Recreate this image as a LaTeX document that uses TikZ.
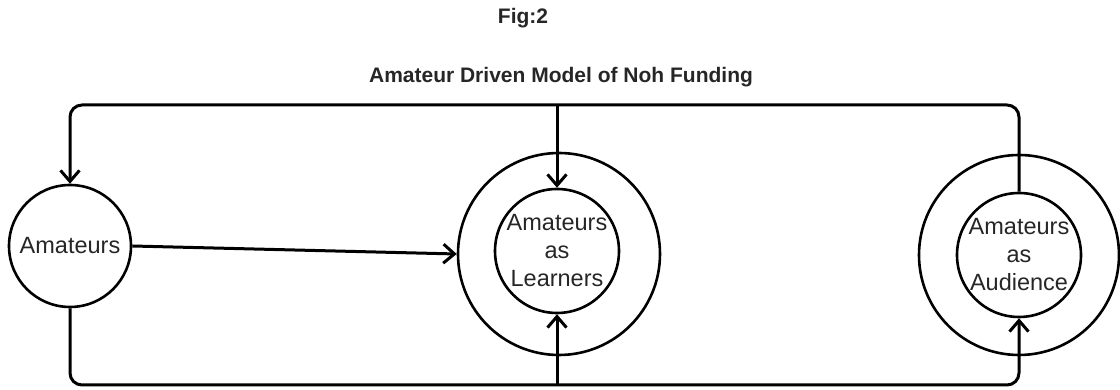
\documentclass[tikz,border=0pt]{standalone}
\usepackage{fontspec}
\setmainfont{Liberation Sans}
\usetikzlibrary{arrows.meta}
\begin{document}
\begin{tikzpicture}[x=1pt,y=1pt,
  circ/.style={draw, circle, inner sep=0pt, line width=2.6pt, text=black!85,
    font=\fontsize{23.5}{28}\selectfont, align=center},
  conn/.style={line width=3pt, -{Straight Barb[length=11pt,width=19pt,line width=3pt]}},
  title/.style={font=\fontsize{21}{24}\selectfont\bfseries, text=black!85}]
\useasboundingbox (0,0) rectangle (1120,390);
\node[title] (fig) at (523,372) {Fig:2};
\node[title] (ttl) at (561,313) {Amateur Driven Model of Noh Funding};
\node[circ, minimum size=122pt] (am) at (70,144) {Amateurs};
\node[circ, minimum size=202pt] (lo) at (559,136) {};
\node[circ, minimum size=124pt] (li) at (557,139) {Amateurs\\as\\Learners};
\node[circ, minimum size=200pt] (ao) at (1019,135) {};
\node[circ, minimum size=124pt] (ai) at (1019,135) {Amateurs\\as\\Audience};
\coordinate (tl) at (70,285);
\coordinate (tr) at (1019,285);
\coordinate (bl) at (70,5);
\coordinate (br) at (1019,5);
\draw[conn, rounded corners=12pt] (ai.north) -- (tr) -- (tl) -- (am.north);
\draw[conn] (li.north |- tl) -- (li.north);
\draw[conn, rounded corners=12pt] (am.south) -- (bl) -- (br) -- (ai.south);
\draw[conn] (li.south |- bl) -- (li.south);
\draw[conn] (am.east) -- (lo.west);
\end{tikzpicture}
\end{document}
